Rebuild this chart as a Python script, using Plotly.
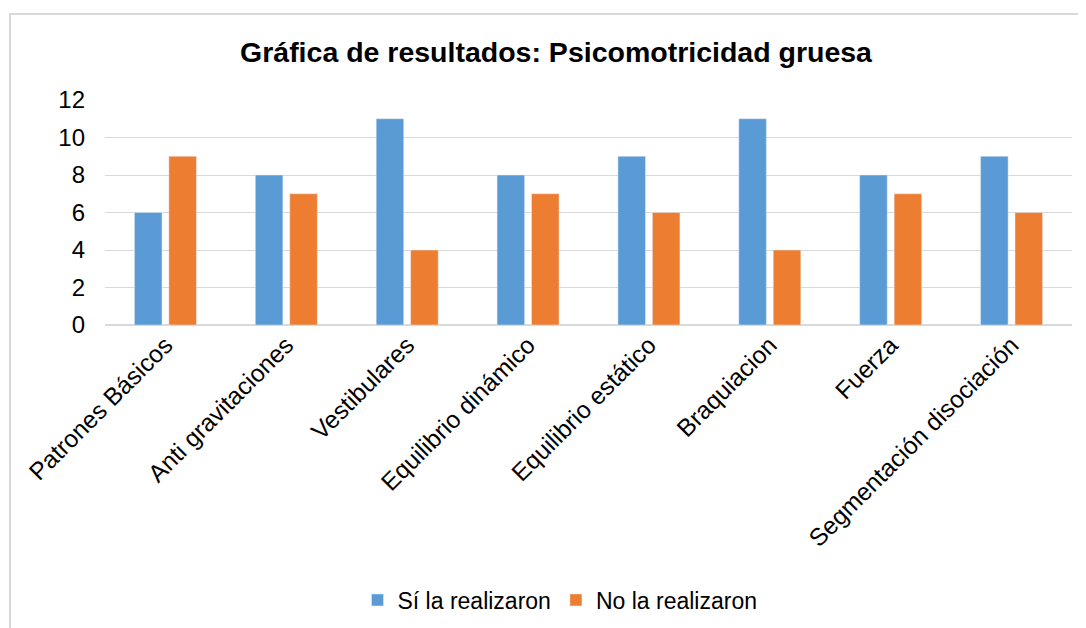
import plotly.graph_objects as go

categories = ["Patrones Básicos", "Anti gravitaciones", "Vestibulares", "Equilibrio dinámico",
              "Equilibrio estático", "Braquiacion", "Fuerza", "Segmentación disociación"]
si_values = [6, 8, 11, 8, 9, 11, 8, 9]
no_values = [9, 7, 4, 7, 6, 4, 7, 6]
y_ticks = [0, 2, 4, 6, 8, 10, 12]

fig = go.Figure()
fig.add_trace(go.Bar(x=categories, y=si_values, name="Sí la realizaron", marker_color="#5B9BD5"))
fig.add_trace(go.Bar(x=categories, y=no_values, name="No la realizaron", marker_color="#ED7D31"))

W, H = 1086, 628
OFF = 8  # page body margin
L, R, T, B = 105 - OFF, W - (1072 - OFF), 100 - OFF, H - (325 - OFF)
PW, PH = W - L - R, H - T - B

def px(xi):
    return (xi - OFF - L) / PW

def py(yi):
    return (H - B - (yi - OFF)) / PH

fig.update_layout(
    width=W, height=H,
    margin=dict(l=L, r=R, t=T, b=B),
    paper_bgcolor="white", plot_bgcolor="white",
    font=dict(family="Liberation Sans, Arial", size=24, color="#000000"),
    barmode="group", bargap=0.43, bargroupgap=0.2,
    title=dict(text="<b>Gráfica de resultados: Psicomotricidad gruesa</b>",
               x=(556 - OFF) / W, xanchor="center", y=1 - (52 - OFF) / H, yanchor="middle",
               font=dict(size=28.5, color="#000000")),
    showlegend=True,
    legend=dict(orientation="h", x=px(560), xanchor="center",
                y=py(600), yanchor="middle",
                font=dict(size=23), traceorder="normal", itemwidth=30),
    xaxis=dict(tickangle=-45, showgrid=False, showline=False, ticks="",
               tickfont=dict(size=24.5), automargin=False),
    yaxis=dict(range=[0, 12], tickvals=y_ticks, showgrid=True, gridcolor="#D9D9D9",
               gridwidth=1, zeroline=True, zerolinecolor="#D9D9D9", showline=False,
               ticks="", tickfont=dict(size=24), ticklabelstandoff=19, automargin=False),
    shapes=[dict(type="rect", xref="paper", yref="paper",
                 x0=px(10), x1=px(W + 30),
                 y0=py(H + 30), y1=py(14),
                 line=dict(color="#D9D9D9", width=2), fillcolor="rgba(0,0,0,0)", layer="below")],
)

fig.write_html("out.html")
